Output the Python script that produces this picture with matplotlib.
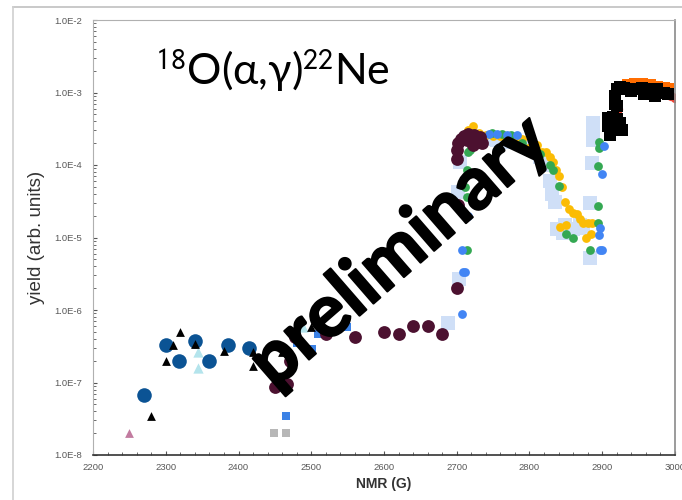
import numpy as np
import matplotlib
matplotlib.use("Agg")
import matplotlib.pyplot as plt
import matplotlib.patheffects as pe
from matplotlib.lines import Line2D
from matplotlib.ticker import FixedLocator, MultipleLocator, FuncFormatter
from matplotlib import font_manager

# ---- data (NMR field in G, yield in arb. units) ----
pink_tri_x = [2250]
pink_tri_y = [2.0e-8]

navy_x = [2270, 2300, 2318, 2340, 2360, 2385, 2414]
navy_y = [6.8e-8, 3.3e-7, 2.0e-7, 3.7e-7, 2.0e-7, 3.3e-7, 3.0e-7]

black_tri_x = [2280, 2300, 2310, 2320, 2340, 2380, 2420, 2420, 2460, 2500]
black_tri_y = [3.5e-8, 2.0e-7, 3.3e-7, 5.0e-7, 3.4e-7, 2.7e-7, 2.6e-7, 1.7e-7, 2.6e-7, 5.9e-7]

cyan_tri_x = [2344, 2344, 2489]
cyan_tri_y = [2.6e-7, 1.6e-7, 5.9e-7]

gray_sq_x = [2449, 2465]
gray_sq_y = [2.0e-8, 2.0e-8]

blue_sq_x = [2465, 2480, 2501, 2509, 2549]
blue_sq_y = [3.4e-8, 3.5e-7, 2.9e-7, 4.7e-7, 5.9e-7]

maroon_x = [2450, 2466, 2471, 2478, 2520, 2560, 2600, 2620, 2640, 2660, 2680, 2700,
            2702, 2700, 2700, 2702, 2706, 2710, 2714, 2716, 2720, 2724, 2728, 2732,
            2735, 2722]
maroon_y = [8.7e-8, 9.5e-8, 2.0e-7, 4.3e-7, 4.7e-7, 4.3e-7, 5.0e-7, 4.6e-7, 6.0e-7, 6.0e-7,
            4.6e-7, 2.0e-6, 2.8e-5, 1.2e-4, 1.6e-4, 2.0e-4, 2.3e-4, 2.5e-4, 2.2e-4, 2.7e-4,
            2.5e-4, 2.6e-4, 2.2e-4, 2.4e-4, 2.0e-4, 1.9e-4]

lav_x = [2688, 2703, 2702, 2704, 2715, 2725, 2735, 2745, 2755, 2765, 2775, 2785, 2795,
         2805, 2815, 2822, 2828, 2831, 2835, 2849, 2838, 2846, 2860, 2869, 2874, 2883,
         2883, 2886, 2887, 2887, 2887]
lav_y = [6.6e-7, 2.7e-6, 4.2e-5, 1.1e-4, 2.3e-4, 2.4e-4, 2.3e-4, 2.3e-4, 2.2e-4, 2.2e-4,
         2.1e-4, 2.0e-4, 1.8e-4, 1.6e-4, 1.3e-4, 1.0e-4, 6.0e-5, 4.0e-5, 3.1e-5, 1.5e-5,
         1.3e-5, 1.15e-5, 1.3e-5, 1.5e-5, 1.35e-5, 3.0e-5, 5.2e-6, 1.07e-4, 2.2e-4,
         3.0e-4, 3.8e-4]

yellow_x = [2715, 2722, 2730, 2740, 2750, 2760, 2770, 2780, 2790, 2798, 2810, 2817, 2823,
            2828, 2832, 2836, 2840, 2845, 2849, 2855, 2860, 2866, 2870, 2874, 2880, 2886,
            2884, 2878, 2842, 2850, 2907]
yellow_y = [3.0e-4, 3.5e-4, 2.8e-4, 2.6e-4, 2.5e-4, 2.5e-4, 2.4e-4, 2.4e-4, 2.3e-4, 1.7e-4,
            1.9e-4, 1.5e-4, 1.5e-4, 1.3e-4, 1.1e-4, 8.5e-5, 7.0e-5, 5.0e-5, 3.1e-5, 2.5e-5,
            2.2e-5, 2.1e-5, 1.8e-5, 1.6e-5, 1.6e-5, 1.6e-5, 1.1e-5, 1.0e-5, 1.4e-5, 1.5e-5,
            4.6e-4]

green_x = [2714, 2714, 2711, 2714, 2716, 2718, 2722, 2748, 2762, 2775, 2790, 2798, 2815,
           2828, 2832, 2840, 2850, 2860, 2894, 2894, 2883, 2894, 2896, 2896, 2923]
green_y = [6.8e-6, 3.6e-5, 5.0e-5, 8.5e-5, 1.5e-4, 1.6e-4, 1.9e-4, 2.8e-4, 2.7e-4, 2.6e-4,
           2.0e-4, 1.5e-4, 1.4e-4, 1.0e-4, 8.5e-5, 5.2e-5, 1.1e-5, 1.0e-5, 2.7e-5, 1.6e-5,
           6.8e-6, 9.8e-5, 1.7e-4, 2.1e-4, 3.1e-4]

blue_x = [2707, 2708, 2711, 2707, 2715, 2745, 2755, 2769, 2783, 2896, 2897, 2897, 2900,
          2900, 2902]
blue_y = [8.7e-7, 3.3e-6, 3.3e-6, 6.8e-6, 2.0e-5, 2.7e-4, 2.7e-4, 2.6e-4, 2.6e-4, 1.07e-5,
          1.35e-5, 6.8e-6, 6.8e-6, 7.5e-5, 1.8e-4]

orange_sq_x = [2935, 2945, 2955, 2965, 2975, 2985, 2990]
orange_sq_y = [1.25e-3, 1.3e-3, 1.3e-3, 1.25e-3, 1.2e-3, 1.15e-3, 1.1e-3]

red_x = [2920, 2922, 2922, 2922, 2995, 3000]
red_y = [5.0e-4, 6.0e-4, 4.0e-4, 3.0e-4, 9.0e-4, 8.3e-4]

black_sq_x = [2908, 2908, 2910, 2915, 2920, 2925, 2927, 2915, 2918, 2918, 2918, 2920,
              2920, 2925, 2930, 2935, 2940, 2945, 2950, 2955, 2960, 2965, 2970, 2975,
              2980, 2985, 2990, 2958, 2972]
black_sq_y = [4.5e-4, 3.5e-4, 2.6e-4, 4.6e-4, 4.3e-4, 3.8e-4, 3.0e-4, 3.0e-4, 7.0e-4,
              9.0e-4, 8.0e-4, 1.1e-3, 6.5e-4, 1.2e-3, 1.15e-3, 1.1e-3, 1.05e-3, 1.1e-3,
              1.1e-3, 1.15e-3, 1.1e-3, 1.05e-3, 1.05e-3, 1.1e-3, 1.0e-3, 1.0e-3, 9.5e-4,
              9.5e-4, 9.0e-4]

y_ticks = [1e-8, 1e-7, 1e-6, 1e-5, 1e-4, 1e-3, 1e-2]

# narrow bold face for the watermark if it is there
names = set(f.name for f in font_manager.fontManager.ttflist)
mark_font = "Liberation Sans Narrow" if "Liberation Sans Narrow" in names else "Lato"

plt.rcParams["mathtext.fontset"] = "stix"
plt.rcParams["mathtext.default"] = "regular"

# ---- figure ----
fig = plt.figure(figsize=(6.82, 5.00), dpi=100)
ax = fig.add_axes([0.1364, 0.09, 0.8533, 0.87])

ax.scatter(pink_tri_x, pink_tri_y, marker="^", s=40, color="#c27ba0", lw=0)
ax.scatter(gray_sq_x, gray_sq_y, marker="s", s=40, color="#b7b7b7", lw=0)
ax.scatter(lav_x, lav_y, marker="s", s=110, color="#cfdff7", lw=0)
ax.scatter(blue_sq_x, blue_sq_y, marker="s", s=40, color="#3c82e6", lw=0)
ax.scatter(cyan_tri_x, cyan_tri_y, marker="^", s=55, color="#b4e4ec", lw=0)
ax.scatter(navy_x, navy_y, marker="o", s=110, color="#0b5394", lw=0)
ax.scatter(black_tri_x, black_tri_y, marker="^", s=40, color="black", lw=0)
ax.scatter(yellow_x, yellow_y, marker="o", s=40, color="#fbbc04", lw=0)
ax.scatter(green_x, green_y, marker="o", s=40, color="#34a853", lw=0)
ax.scatter(blue_x, blue_y, marker="o", s=40, color="#4285f4", lw=0)
ax.scatter(maroon_x, maroon_y, marker="o", s=85, color="#4c1130", lw=0)
ax.scatter(red_x, red_y, marker="o", s=45, color="#ea4335", lw=0)
ax.scatter(orange_sq_x, orange_sq_y, marker="s", s=70, color="#ff6d01", lw=0)
ax.scatter(black_sq_x, black_sq_y, marker="s", s=70, color="black", lw=0)

ax.set_yscale("log")
ax.set_xlim(2200, 3000)
ax.set_ylim(1e-8, 1e-2)

ax.yaxis.set_major_locator(FixedLocator(y_ticks))
ax.yaxis.set_major_formatter(FuncFormatter(lambda v, p: "1.0E%d" % round(np.log10(v))))
ax.xaxis.set_major_locator(MultipleLocator(100))
ax.xaxis.set_minor_locator(MultipleLocator(20))
ax.tick_params(axis="both", which="both", direction="in", labelsize=6.8,
               labelcolor="#595959", color="#555555")
ax.tick_params(axis="both", which="major", length=3, width=0.8)
ax.tick_params(axis="both", which="minor", length=2, width=0.6)
ax.tick_params(axis="x", pad=6)
ax.tick_params(axis="y", pad=8)
for lab in ax.get_xticklabels() + ax.get_yticklabels():
    lab.set_family("Liberation Sans")

ax.spines["left"].set_color("#b0b0b0")
ax.spines["top"].set_color("#b0b0b0")
ax.spines["right"].set_color("#8a8a8a")
ax.spines["right"].set_linewidth(1.2)
ax.spines["bottom"].set_color("#333333")
ax.spines["bottom"].set_linewidth(1.2)

ax.set_ylabel("yield (arb. units)", family="Liberation Sans", fontsize=13.5,
              color="#333333")
ax.yaxis.set_label_coords(-0.083, 0.5)
ax.set_xlabel("NMR (G)", family="Liberation Sans", fontsize=10, fontweight="bold",
              color="#333333")
ax.xaxis.set_label_coords(0.5, -0.05)

# reaction label
fig.text(0.227, 0.83, r"$^{\mathsf{18}}$O($\alpha$,$\gamma$)$^{\mathsf{22}}$Ne",
         family="Lato", fontsize=31, va="baseline", ha="left")

# watermark
fig.text(0.5865, 0.496, "preliminary", family=mark_font, fontweight="bold", fontsize=53,
         rotation=41, ha="center", va="center", rotation_mode="anchor", color="black",
         path_effects=[pe.withStroke(linewidth=1.5, foreground="black")])

# slide frame lines
fig.add_artist(Line2D([13 / 682, 1], [1 - 7 / 500, 1 - 7 / 500], color="#c0c0c0", lw=1.2))
fig.add_artist(Line2D([13 / 682, 13 / 682], [0, 1 - 7 / 500], color="#d0d0d0", lw=1.2))

fig.savefig("out.png", dpi=100)
